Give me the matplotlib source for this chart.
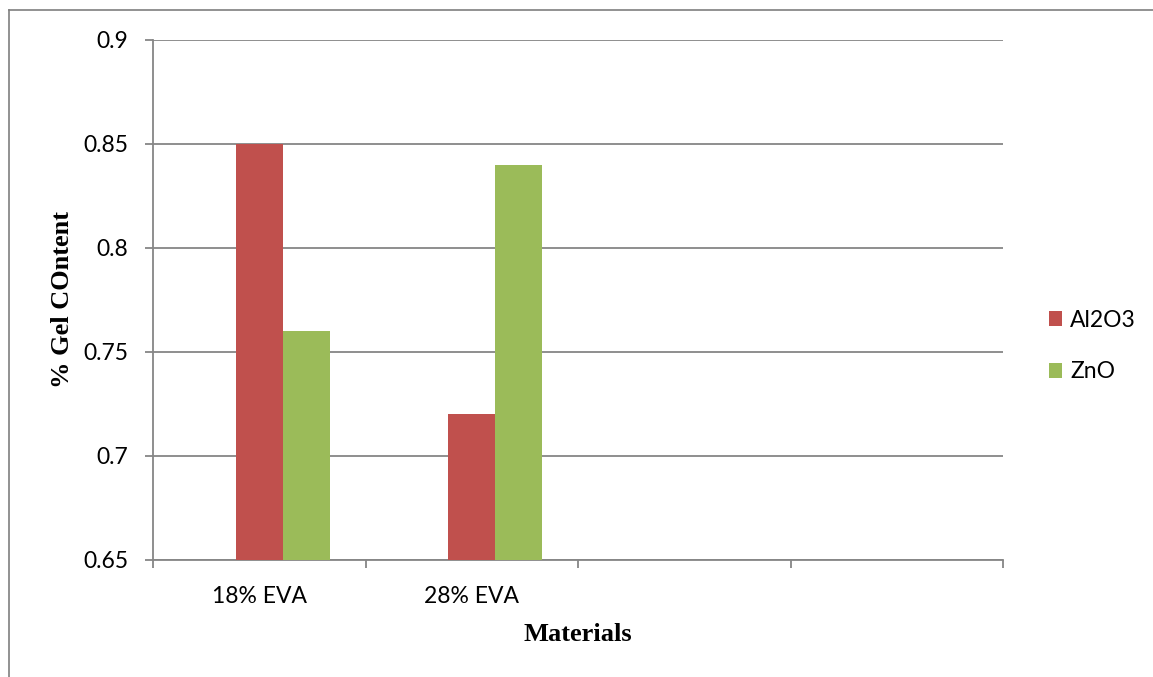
import numpy as np
import matplotlib
matplotlib.use('Agg')
import matplotlib.pyplot as plt
from matplotlib.lines import Line2D

# Gel content by material and filler
categories = ['18% EVA', '28% EVA', '', '']
al2o3 = [0.85, 0.72, np.nan, np.nan]
zno = [0.76, 0.84, np.nan, np.nan]
y_ticks = [0.65, 0.7, 0.75, 0.8, 0.85, 0.9]

grey = '#868686'
red = '#C0504D'
green = '#9BBB59'

fig = plt.figure(figsize=(11.53, 6.77), dpi=100)
ax = fig.add_axes([153 / 1153, 117 / 677, 850 / 1153, 520 / 677])

x = np.arange(len(categories))
w = 47 / 212.5
ax.bar(x, al2o3, width=w, color=red, label='Al2O3', zorder=3)
ax.bar(x + w, zno, width=w, color=green, label='ZnO', zorder=3)

ax.set_xlim(-0.5, len(categories) - 0.5)
ax.set_ylim(0.65, 0.9)
ax.set_yticks(y_ticks)
ax.set_yticklabels(['0.65', '0.7', '0.75', '0.8', '0.85', '0.9'])
ax.yaxis.grid(True, color=grey, lw=1.3, zorder=0)

# category labels at centres, tick marks on the boundaries
ax.set_xticks(x)
ax.set_xticklabels(categories)
ax.set_xticks(np.arange(len(categories) + 1) - 0.5, minor=True)
ax.tick_params(axis='x', which='major', length=0, pad=19)
ax.tick_params(axis='x', which='minor', length=6, width=1.3, color=grey)
ax.tick_params(axis='y', length=6, width=1.3, color=grey, pad=12)
for lbl in ax.get_xticklabels() + ax.get_yticklabels():
    lbl.set_fontfamily('Lato')
    lbl.set_fontsize(16.5)

for s in ['top', 'right']:
    ax.spines[s].set_visible(False)
for s in ['left', 'bottom']:
    ax.spines[s].set_color(grey)
    ax.spines[s].set_linewidth(1.3)

ax.set_xlabel('Materials', family='Liberation Serif', fontweight='bold', fontsize=19)
ax.xaxis.set_label_coords(0.5, -0.144)
ax.xaxis.label.set_va('center')
ax.set_ylabel('% Gel COntent', family='Liberation Serif', fontweight='bold', fontsize=19)
ax.yaxis.set_label_coords(-0.107, 0.5)
ax.yaxis.label.set_va('center')

leg = ax.legend(loc='center left', bbox_to_anchor=(1028 / 1153, 1 - 346 / 677),
                bbox_transform=fig.transFigure, frameon=False,
                prop={'family': 'Lato', 'size': 16.5}, handlelength=0.6,
                handleheight=0.6, handletextpad=0.35, labelspacing=1.35)

# outer chart border
fig.add_artist(Line2D([9 / 1153, 9 / 1153], [-0.1, 1 - 10 / 677], color='#7f7f7f', lw=1.2))
fig.add_artist(Line2D([9 / 1153, 1.1], [1 - 10 / 677, 1 - 10 / 677], color='#7f7f7f', lw=1.2))

fig.savefig('out.png', dpi=100)
